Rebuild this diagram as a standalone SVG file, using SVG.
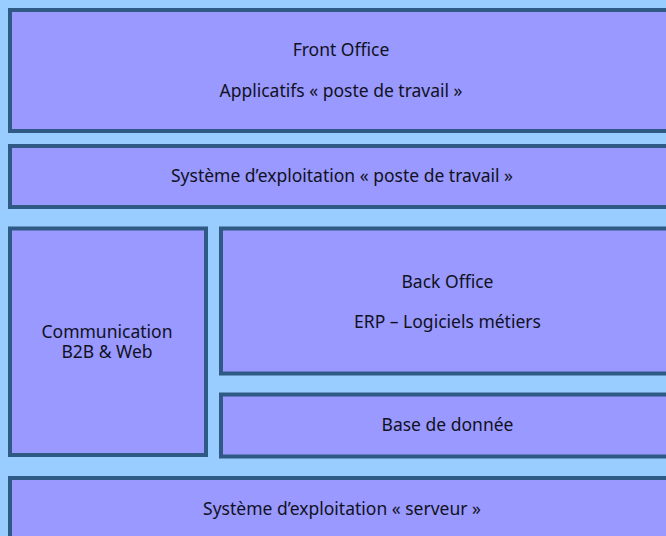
<svg xmlns="http://www.w3.org/2000/svg" width="666" height="536" viewBox="0 0 666 536">
<style>
.box{fill:#9999FF;stroke:#305A86;stroke-width:4}
.t{font-family:"Noto Sans","DejaVu Sans",sans-serif;font-size:17.5px;fill:#111122;text-anchor:middle}
</style>
<rect x="0" y="0" width="666" height="536" fill="#99CCFF"/>
<g id="front-office">
<rect class="box" x="10" y="10" width="664" height="121"/>
<text class="t" x="341" y="56">Front Office</text>
<text class="t" x="341" y="97">Applicatifs « poste de travail »</text>
</g>
<g id="os-poste">
<rect class="box" x="10" y="146" width="664" height="61"/>
<text class="t" x="342" y="182">Système d’exploitation « poste de travail »</text>
</g>
<g id="communication">
<rect class="box" x="10" y="228.5" width="196" height="226.5"/>
<text class="t" x="107" y="338">Communication</text>
<text class="t" x="107" y="358">B2B &amp; Web</text>
</g>
<g id="back-office">
<rect class="box" x="221" y="228.5" width="453" height="145"/>
<text class="t" x="447.5" y="288">Back Office</text>
<text class="t" x="447.5" y="328">ERP – Logiciels métiers</text>
</g>
<g id="base-de-donnee">
<rect class="box" x="221" y="394.5" width="453" height="62"/>
<text class="t" x="447.5" y="431">Base de donnée</text>
</g>
<g id="os-serveur">
<rect class="box" x="10" y="478" width="664" height="80"/>
<text class="t" x="342" y="515">Système d’exploitation « serveur »</text>
</g>
<g id="connectors"/>
</svg>
